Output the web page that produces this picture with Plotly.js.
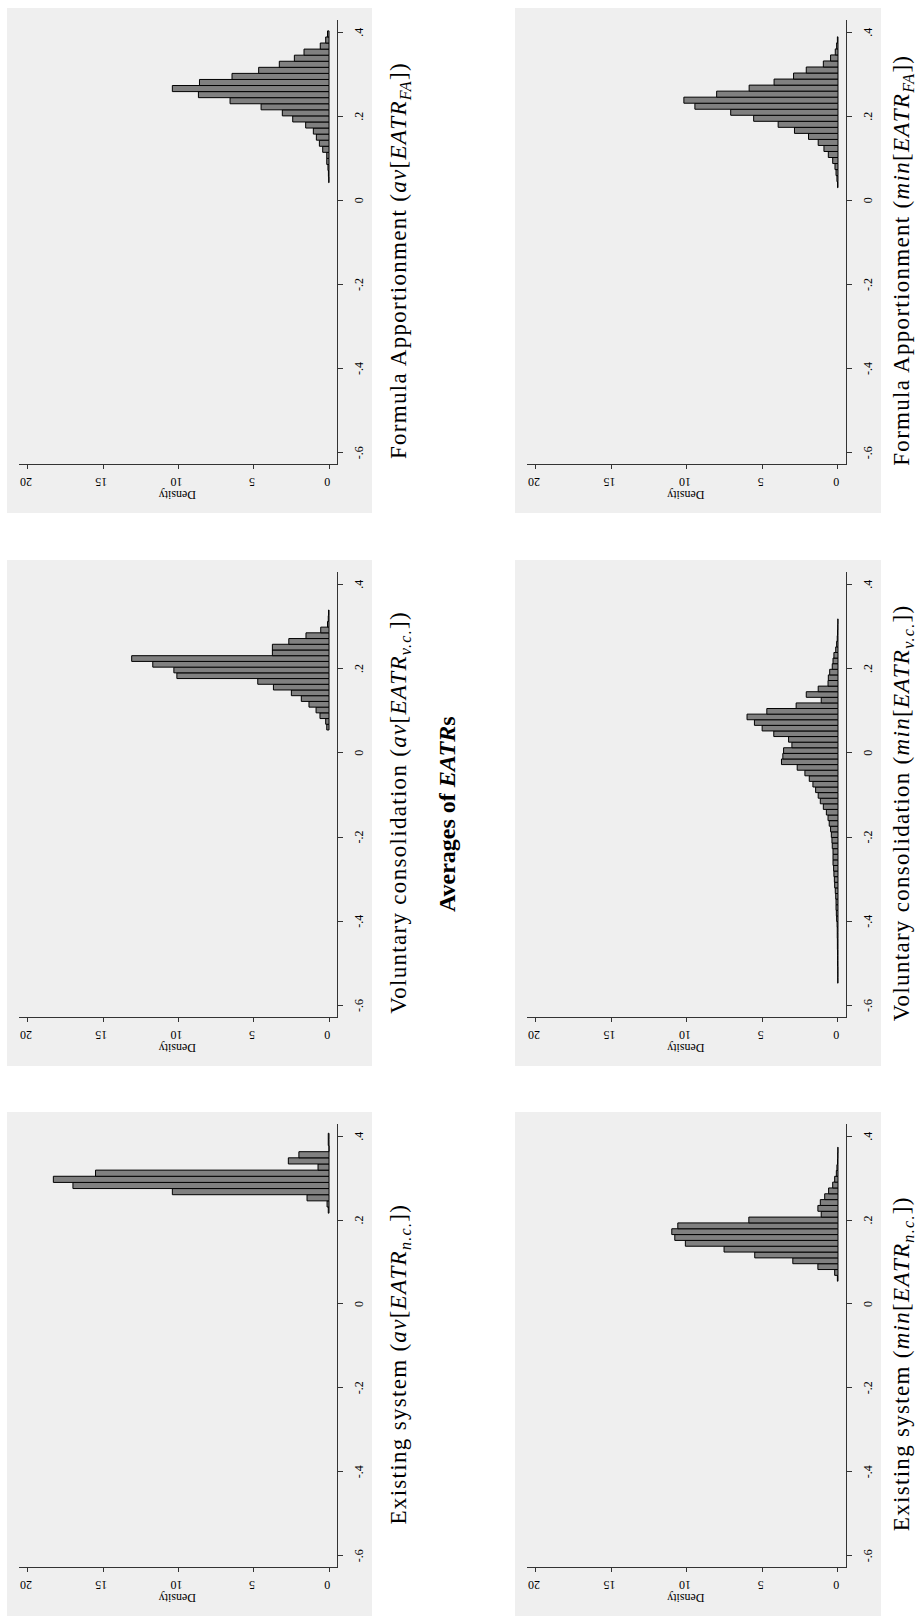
<!DOCTYPE html>
<html>
<head>
<meta charset="utf-8">
<script src="https://cdn.plot.ly/plotly-3.0.1.min.js"></script>
<style>
  html, body { margin: 0; padding: 0; background: #fff; overflow: hidden; width: 923px; height: 1616px; }
  /* the figure is laid out landscape and turned a quarter turn */
  #chart { position: absolute; left: 0; top: 0; width: 1616px; height: 923px;
           transform-origin: 0 0; transform: translate(0px, 1616px) rotate(-90deg); }
  /* captions are set a little loose, like the TeX faces they imitate */
  .annotation-text.caption { letter-spacing: 1.3px; }
</style>
</head>
<body>
<div id="chart"></div>
<script>
// Histogram data: lower edge of first bin, bin width, densities from low to high EATR
const avExistingStart = 0.2165;
const avExistingWidth = 0.01465;
const avExistingDensity = [0.05, 0.13, 1.46, 10.4, 17.0, 18.3, 15.5, 0.73, 2.7, 2.0, 0, 0.05, 0.05];

const avVoluntaryStart = 0.0541;
const avVoluntaryWidth = 0.01356;
const avVoluntaryDensity = [0.15, 0.22, 0.6, 0.86, 1.33, 1.84, 2.50, 3.69, 4.73, 10.1, 10.3, 11.7, 13.1,
                            3.76, 3.76, 2.67, 1.53, 0.55, 0.1, 0.05, 0.03];

const avFormulaStart = 0.0421;
const avFormulaWidth = 0.01444;
const avFormulaDensity = [0.02, 0.04, 0.07, 0.15, 0.15, 0.42, 0.64, 0.84, 1.04, 1.55, 2.41, 3.10, 4.51,
                          6.57, 8.67, 10.4, 8.6, 6.44, 4.67, 3.30, 2.30, 1.66, 0.58, 0.22, 0.1];

const minExistingStart = 0.0543;
const minExistingWidth = 0.01389;
const minExistingDensity = [0.04, 0.22, 1.33, 2.99, 5.51, 7.54, 10.1, 10.8, 11.0, 10.6, 5.9, 1.11, 1.33,
                            1.17, 0.88, 0.62, 0.35, 0.22, 0.11, 0.07, 0.03, 0.02, 0.01];

const minVoluntaryStart = -0.5467;
const minVoluntaryWidth = 0.0133;
const minVoluntaryDensity = [0.02, 0.02, 0.02, 0.03, 0.03, 0.03, 0.04, 0.04, 0.05, 0.05, 0.06, 0.09,
                             0.11, 0.13, 0.13, 0.15, 0.18, 0.22, 0.24, 0.27, 0.29, 0.33, 0.33,
                             0.33, 0.38, 0.40, 0.44, 0.49, 0.58, 0.66, 0.77, 0.97, 1.17, 1.31, 1.48,
                             1.66, 1.90, 2.19, 2.70, 3.74, 3.65, 3.6, 3.05, 3.27, 4.25, 5.02, 5.53,
                             6.02, 4.71, 2.77, 1.11, 2.1, 1.31,
                             0.66, 0.64, 0.55, 0.38, 0.33, 0.27, 0.15, 0.09, 0.05, 0.03, 0.02, 0.01];

const minFormulaStart = 0.0302;
const minFormulaWidth = 0.01435;
const minFormulaDensity = [0.03, 0.07, 0.13, 0.2, 0.35, 0.64, 0.93, 1.31, 1.95, 2.88, 3.96, 5.58, 7.10,
                           9.47, 10.2, 8.03, 5.88, 4.23, 2.94, 2.10, 0.97, 0.49, 0.18, 0.09, 0.04];

const eatrTicks = [-0.6, -0.4, -0.2, 0, 0.2, 0.4];
const eatrTickText = ['-.6', '-.4', '-.2', '0', '.2', '.4'];
const densityTicks = [0, 5, 10, 15, 20];

const panelTitles = [
  'Existing system (<i>av</i>[<i>EATR</i><sub><i>n.c.</i></sub>])',
  'Voluntary consolidation (<i>av</i>[<i>EATR</i><sub><i>v.c.</i></sub>])',
  'Formula Apportionment (<i>av</i>[<i>EATR</i><sub><i>FA</i></sub>])',
  'Existing system (<i>min</i>[<i>EATR</i><sub><i>n.c.</i></sub>])',
  'Voluntary consolidation (<i>min</i>[<i>EATR</i><sub><i>v.c.</i></sub>])',
  'Formula Apportionment (<i>min</i>[<i>EATR</i><sub><i>FA</i></sub>])'
];
const mainTitle = '<b>Averages of <i>EATR</i>s</b>';

const hists = [
  [avExistingStart, avExistingWidth, avExistingDensity],
  [avVoluntaryStart, avVoluntaryWidth, avVoluntaryDensity],
  [avFormulaStart, avFormulaWidth, avFormulaDensity],
  [minExistingStart, minExistingWidth, minExistingDensity],
  [minVoluntaryStart, minVoluntaryWidth, minVoluntaryDensity],
  [minFormulaStart, minFormulaWidth, minFormulaDensity]
];

// ---- page geometry (landscape pixels) ----
const W = 1616, H = 923;
const FONT = '"Liberation Serif", "DejaVu Serif", serif';
const colGray = [[0, 504], [550, 1056], [1103, 1608]];
const rowGray = [[7, 372], [515, 881]];
const captionY = [400, 903];
const plotLeft = 49, plotRight = 12;   // inset of plot area inside grey box
const plotTop = 12, plotBottom = 35;
const fx = px => px / W;
const fy = px => 1 - px / H;

const traces = [];
const layout = {
  width: W, height: H,
  margin: { l: 0, r: 0, t: 0, b: 0 },
  paper_bgcolor: '#ffffff',
  plot_bgcolor: '#ffffff',
  showlegend: false,
  bargap: 0,
  font: { family: FONT, color: '#000', size: 12 },
  shapes: [],
  annotations: []
};
const captionIndex = [];

hists.forEach((h, i) => {
  const [start, width, dens] = h;
  const row = Math.floor(i / 3), col = i % 3;
  const n = i + 1;
  const xa = 'x' + (n === 1 ? '' : n), ya = 'y' + (n === 1 ? '' : n);
  const centers = dens.map((_, k) => start + (k + 0.5) * width);
  traces.push({
    type: 'bar', x: centers, y: dens, width: dens.map(() => width),
    xaxis: xa, yaxis: ya,
    marker: { color: '#808080', line: { color: '#000', width: 1 } },
    hoverinfo: 'skip'
  });
  const gx = colGray[col], gy = rowGray[row];
  const x0 = gx[0] + plotLeft, x1 = gx[1] - plotRight;
  const y0 = gy[0] + plotTop, y1 = gy[1] - plotBottom;
  layout['xaxis' + (n === 1 ? '' : n)] = {
    domain: [fx(x0), fx(x1)], anchor: ya, range: [-0.627, 0.429],
    tickvals: eatrTicks, ticktext: eatrTickText, ticks: 'outside', ticklen: 5, tickwidth: 1,
    tickcolor: '#333', showline: true, linecolor: '#333', linewidth: 1,
    showgrid: false, zeroline: false, fixedrange: true, ticklabelstandoff: 6,
    tickfont: { family: FONT, size: 12, color: '#000' }
  };
  layout['yaxis' + (n === 1 ? '' : n)] = {
    domain: [fy(y1), fy(y0)], anchor: xa, range: [-0.53, 20.58],
    tickvals: densityTicks, ticks: 'outside', ticklen: 4, tickwidth: 1, tickangle: -90,
    tickcolor: '#333', showline: true, linecolor: '#333', linewidth: 1,
    showgrid: false, zeroline: false, fixedrange: true, ticklabelstandoff: 4,
    tickfont: { family: FONT, size: 12, color: '#000' }
  };
  // grey graph region behind each plot
  layout.shapes.push({
    type: 'rect', xref: 'paper', yref: 'paper', layer: 'below',
    x0: fx(gx[0]), x1: fx(gx[1]), y0: fy(gy[1]), y1: fy(gy[0]),
    fillcolor: '#efefef', line: { width: 0 }
  });
  // y-axis title
  layout.annotations.push({
    xref: 'paper', yref: 'paper', x: fx(x0 - 31), y: fy((y0 + y1) / 2),
    text: 'Density', showarrow: false, textangle: -90,
    xanchor: 'center', yanchor: 'middle', font: { family: FONT, size: 12, color: '#000' }
  });
  // panel caption below
  captionIndex.push(layout.annotations.length);
  layout.annotations.push({
    xref: 'paper', yref: 'paper', x: fx((gx[0] + gx[1]) / 2), y: fy(captionY[row]),
    text: panelTitles[i], showarrow: false,
    xanchor: 'center', yanchor: 'middle', font: { family: FONT, size: 23, color: '#000' }
  });
});

layout.annotations.push({
  xref: 'paper', yref: 'paper', x: fx(802), y: fy(447),
  text: mainTitle, showarrow: false,
  xanchor: 'center', yanchor: 'middle', font: { family: FONT, size: 24, color: '#000' }
});

// captions are centred text, so widening them after drawing keeps them centred
const chartDiv = document.getElementById('chart');
Plotly.newPlot(chartDiv, traces, layout, { staticPlot: true, displayModeBar: false }).then(() => {
  const groups = chartDiv.querySelectorAll('.annotation');
  captionIndex.forEach(k => {
    const t = groups[k] && groups[k].querySelector('.annotation-text');
    if (t) t.classList.add('caption');
  });
});
</script>
</body>
</html>
